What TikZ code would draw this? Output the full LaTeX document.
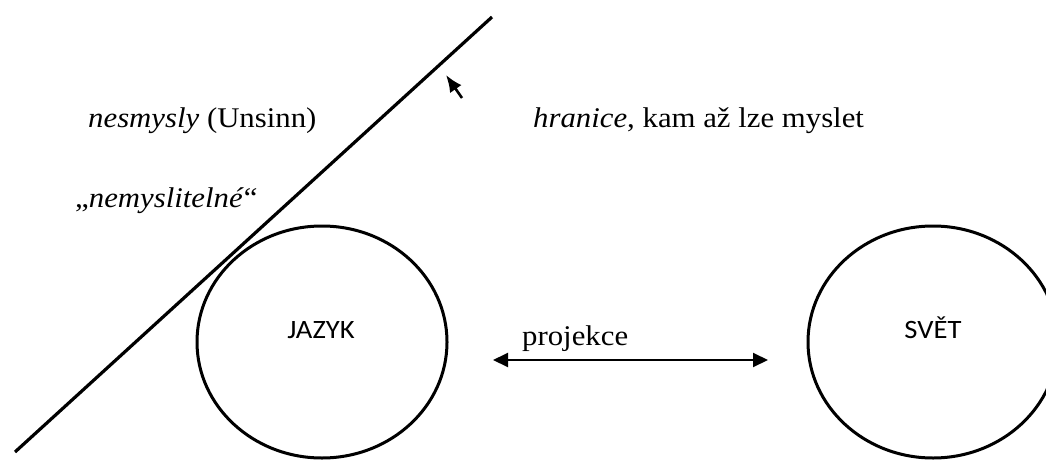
\documentclass[tikz,border=0pt]{standalone}
\usepackage{fontspec}
\setmainfont{Liberation Serif}
\newfontfamily\boxfont{Carlito}
\usetikzlibrary{arrows.meta,shapes.geometric}

% text is set slightly wide, like the rings
\newcommand{\wide}[1]{\scalebox{1.08}[1]{#1}}

\tikzset{
  ring/.style={draw, line width=3pt, ellipse, minimum width=250pt, minimum height=232pt, inner sep=0pt},
  ringlabel/.style={font=\boxfont\fontsize{26.5}{30}\selectfont, inner sep=0pt, anchor=base},
  caption/.style={font=\fontsize{28.5}{34}\selectfont, inner sep=0pt, anchor=base west},
  boundary/.style={line width=3.2pt},
  twoway/.style={line width=2pt, {Triangle[length=15pt,width=14pt]}-{Triangle[length=15pt,width=14pt]}},
  pointer/.style={line width=2.6pt, -{Latex[length=17pt,width=14pt]}}
}

\begin{document}
\begin{tikzpicture}[x=1pt, y=-1pt]
  \path[use as bounding box] (0,0) rectangle (1046,460);
  \clip (0,0) rectangle (1046,460);

  % the two worlds
  \node[ring] (jazyk) at (322,342) {};
  \node[ringlabel] at (321,338) {\wide{JAZYK}};
  \node[ring] (svet) at (933,342) {};
  \node[ringlabel] at (933,338) {\wide{SVĚT}};

  % the limit of thought
  \coordinate (lo) at (15,452);
  \coordinate (hi) at (492,17);
  \draw[boundary] (lo) -- (hi);

  % small pointer at the limit
  \coordinate (ptail) at (462,98);
  \coordinate (ptip) at (446,75);
  \draw[pointer] (ptail) -- (ptip);

  % texts
  \node[caption] at (88,127) {\wide{\textit{nesmysly} (Unsinn)}};
  \node[caption] at (533,127) {\wide{\textit{hranice}, kam až lze myslet}};
  \node[caption] at (75,207) {\wide{„\textit{nemyslitelné}“}};
  \node[caption] (proj) at (522,345) {\wide{projekce}};

  % projection between language and world
  \coordinate (pl) at (493,360);
  \coordinate (pr) at (768,360);
  \draw[twoway] (pl) -- (pr);
\end{tikzpicture}
\end{document}
